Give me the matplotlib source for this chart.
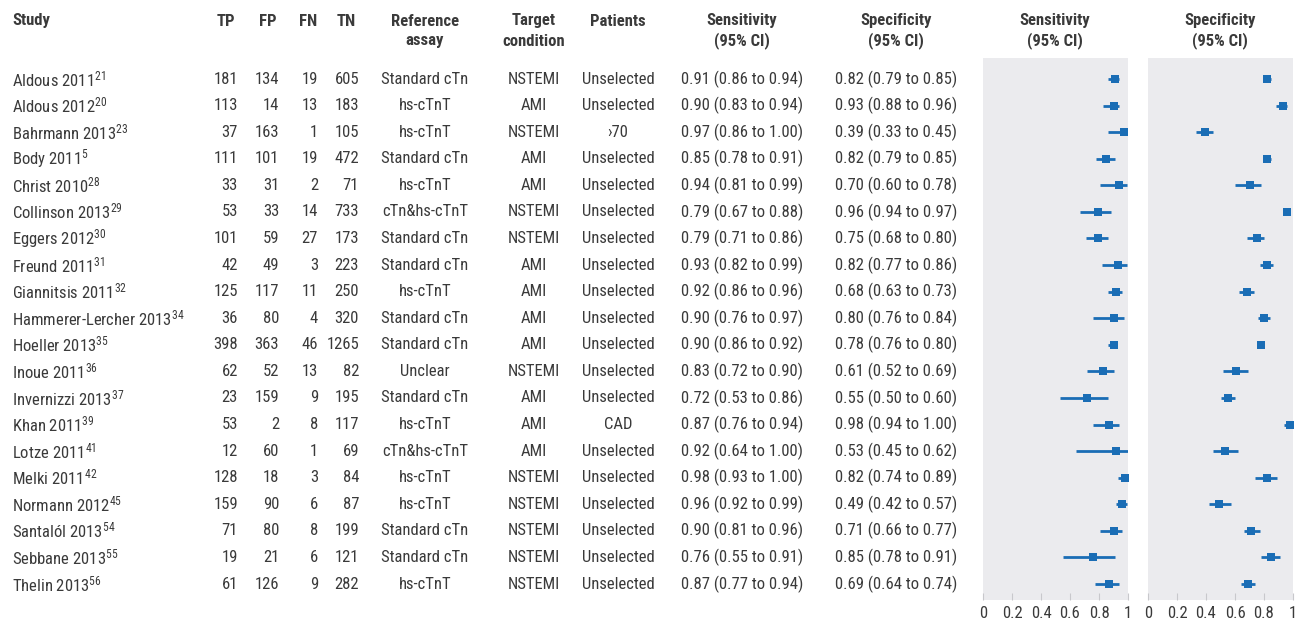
import matplotlib
matplotlib.use("Agg")
import matplotlib.pyplot as plt
from matplotlib import font_manager

studies = ["Aldous 2011", "Aldous 2012", "Bahrmann 2013", "Body 2011", "Christ 2010",
           "Collinson 2013", "Eggers 2012", "Freund 2011", "Giannitsis 2011",
           "Hammerer-Lercher 2013", "Hoeller 2013", "Inoue 2011", "Invernizzi 2013",
           "Khan 2011", "Lotze 2011", "Melki 2011", "Normann 2012", "Santalól 2013",
           "Sebbane 2013", "Thelin 2013"]
refs = ["21", "20", "23", "5", "28", "29", "30", "31", "32", "34", "35", "36", "37",
        "39", "41", "42", "45", "54", "55", "56"]
tp = [181, 113, 37, 111, 33, 53, 101, 42, 125, 36, 398, 62, 23, 53, 12, 128, 159, 71, 19, 61]
fp = [134, 14, 163, 101, 31, 33, 59, 49, 117, 80, 363, 52, 159, 2, 60, 18, 90, 80, 21, 126]
fn = [19, 13, 1, 19, 2, 14, 27, 3, 11, 4, 46, 13, 9, 8, 1, 3, 6, 8, 6, 9]
tn = [605, 183, 105, 472, 71, 733, 173, 223, 250, 320, 1265, 82, 195, 117, 69, 84, 87, 199, 121, 282]
assay = ["Standard cTn", "hs-cTnT", "hs-cTnT", "Standard cTn", "hs-cTnT", "cTn&hs-cTnT",
         "Standard cTn", "Standard cTn", "hs-cTnT", "Standard cTn", "Standard cTn", "Unclear",
         "Standard cTn", "hs-cTnT", "cTn&hs-cTnT", "hs-cTnT", "hs-cTnT", "Standard cTn",
         "Standard cTn", "hs-cTnT"]
target = ["NSTEMI", "AMI", "NSTEMI", "AMI", "AMI", "NSTEMI", "NSTEMI", "AMI", "AMI", "AMI",
          "AMI", "NSTEMI", "AMI", "AMI", "AMI", "NSTEMI", "NSTEMI", "NSTEMI", "NSTEMI", "NSTEMI"]
patients = ["Unselected", "Unselected", "›70", "Unselected", "Unselected", "Unselected",
            "Unselected", "Unselected", "Unselected", "Unselected", "Unselected", "Unselected",
            "Unselected", "CAD", "Unselected", "Unselected", "Unselected", "Unselected",
            "Unselected", "Unselected"]
sens = [0.91, 0.90, 0.97, 0.85, 0.94, 0.79, 0.79, 0.93, 0.92, 0.90, 0.90, 0.83, 0.72, 0.87, 0.92, 0.98, 0.96, 0.90, 0.76, 0.87]
sens_lo = [0.86, 0.83, 0.86, 0.78, 0.81, 0.67, 0.71, 0.82, 0.86, 0.76, 0.86, 0.72, 0.53, 0.76, 0.64, 0.93, 0.92, 0.81, 0.55, 0.77]
sens_hi = [0.94, 0.94, 1.00, 0.91, 0.99, 0.88, 0.86, 0.99, 0.96, 0.97, 0.92, 0.90, 0.86, 0.94, 1.00, 1.00, 0.99, 0.96, 0.91, 0.94]
spec = [0.82, 0.93, 0.39, 0.82, 0.70, 0.96, 0.75, 0.82, 0.68, 0.80, 0.78, 0.61, 0.55, 0.98, 0.53, 0.82, 0.49, 0.71, 0.85, 0.69]
spec_lo = [0.79, 0.88, 0.33, 0.79, 0.60, 0.94, 0.68, 0.77, 0.63, 0.76, 0.76, 0.52, 0.50, 0.94, 0.45, 0.74, 0.42, 0.66, 0.78, 0.64]
spec_hi = [0.85, 0.96, 0.45, 0.85, 0.78, 0.97, 0.80, 0.86, 0.73, 0.84, 0.80, 0.69, 0.60, 1.00, 0.62, 0.89, 0.57, 0.77, 0.91, 0.74]
ticks = [0, 0.2, 0.4, 0.6, 0.8, 1]
tick_labels = ["0", "0.2", "0.4", "0.6", "0.8", "1"]

names = {f.name for f in font_manager.fontManager.ttflist}
fam = [f for f in ["Liberation Sans Narrow", "Roboto Condensed", "Open Sans Condensed", "Roboto", "DejaVu Sans"] if f in names]
fam.append("DejaVu Sans")
plt.rcParams["font.family"] = fam
plt.rcParams["mathtext.fontset"] = "custom"
plt.rcParams["mathtext.rm"] = fam[0]

W, H = 1295, 624
fig = plt.figure(figsize=(W / 100, H / 100), dpi=100)
fig.patch.set_facecolor("white")

txt = "#3a3a3a"
blue = "#1a6db5"
panel_bg = "#ebebee"
fs = 12

tab = fig.add_axes([0, 0, 1, 1])
tab.set_xlim(0, W)
tab.set_ylim(H, 0)
tab.axis("off")

row0, dy = 79, 26.58
ys = [row0 + i * dy for i in range(len(studies))]

# headers
hy1, hy2 = 21, 41
hkw = dict(fontsize=fs, fontweight="bold", color=txt, va="center")
tab.text(12, hy1, "Study", ha="left", **hkw)
tab.text(226, hy1, "TP", ha="center", **hkw)
tab.text(268, hy1, "FP", ha="center", **hkw)
tab.text(308, hy1, "FN", ha="center", **hkw)
tab.text(346, hy1, "TN", ha="center", **hkw)
tab.text(425, hy1, "Reference", ha="center", **hkw)
tab.text(425, hy2, "assay", ha="center", **hkw)
tab.text(534, hy1, "Target", ha="center", **hkw)
tab.text(534, hy2, "condition", ha="center", **hkw)
tab.text(618, hy1, "Patients", ha="center", **hkw)
tab.text(742, hy1, "Sensitivity", ha="center", **hkw)
tab.text(742, hy2, "(95% CI)", ha="center", **hkw)
tab.text(896, hy1, "Specificity", ha="center", **hkw)
tab.text(896, hy2, "(95% CI)", ha="center", **hkw)
tab.text(1055, hy1, "Sensitivity", ha="center", **hkw)
tab.text(1055, hy2, "(95% CI)", ha="center", **hkw)
tab.text(1220, hy1, "Specificity", ha="center", **hkw)
tab.text(1220, hy2, "(95% CI)", ha="center", **hkw)

bkw = dict(fontsize=fs, color=txt, va="center")
for i, y in enumerate(ys):
    tab.text(12, y, studies[i] + r"$\mathregular{^{" + refs[i] + "}}$", ha="left", **bkw)
    tab.text(238, y, str(tp[i]), ha="right", **bkw)
    tab.text(279, y, str(fp[i]), ha="right", **bkw)
    tab.text(318, y, str(fn[i]), ha="right", **bkw)
    tab.text(359, y, str(tn[i]), ha="right", **bkw)
    tab.text(425, y, assay[i], ha="center", **bkw)
    tab.text(534, y, target[i], ha="center", **bkw)
    tab.text(618, y, patients[i], ha="center", **bkw)
    tab.text(742, y, f"{sens[i]:.2f} ({sens_lo[i]:.2f} to {sens_hi[i]:.2f})", ha="center", **bkw)
    tab.text(896, y, f"{spec[i]:.2f} ({spec_lo[i]:.2f} to {spec_hi[i]:.2f})", ha="center", **bkw)

# forest panels
top_px, bot_px = 58, 600
n = len(studies)
ytop = -(row0 - top_px) / dy
ybot = (n - 1) + (bot_px - ys[-1]) / dy


def panel(x0, x1, est, lo, hi):
    ax = fig.add_axes([x0 / W, (H - bot_px) / H, (x1 - x0) / W, (bot_px - top_px) / H])
    ax.set_facecolor(panel_bg)
    ax.set_xlim(0, 1)
    ax.set_ylim(ybot, ytop)
    for s in ax.spines.values():
        s.set_visible(False)
    idx = list(range(n))
    ax.hlines(idx, lo, hi, color=blue, lw=2, zorder=2)
    ax.scatter(est, idx, marker="s", s=38, color=blue, zorder=3, linewidths=0, clip_on=False)
    ax.set_yticks([])
    ax.set_xticks(ticks)
    ax.set_xticklabels(tick_labels)
    ax.tick_params(axis="x", length=5, width=0.8, color="#c8c8cc", direction="in",
                   labelsize=fs, labelcolor=txt, pad=4)
    return ax


panel(983, 1128, sens, sens_lo, sens_hi)
panel(1148, 1293, spec, spec_lo, spec_hi)

fig.savefig("out.png", dpi=100, facecolor="white")
